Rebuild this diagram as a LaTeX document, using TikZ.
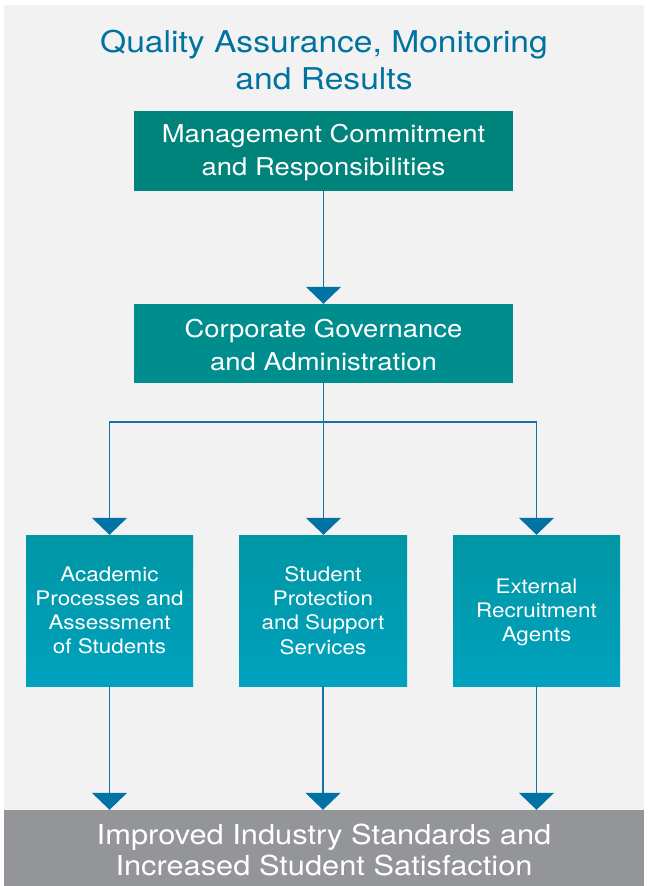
\documentclass[tikz,border=0pt]{standalone}
\usepackage{fontspec}
\setmainfont{TeX Gyre Heros}[FakeStretch=1.12]
\usetikzlibrary{arrows.meta}
\definecolor{bgc}{RGB}{242,242,242}
\definecolor{titlec}{RGB}{0,114,160}
\definecolor{arrowc}{RGB}{0,114,163}
\definecolor{linec}{RGB}{20,115,168}
\definecolor{boxa}{RGB}{0,131,122}
\definecolor{boxb}{RGB}{0,141,142}
\definecolor{boxtop}{RGB}{0,150,164}
\definecolor{boxbot}{RGB}{0,162,190}
\definecolor{barc}{RGB}{147,149,152}
\newcommand{\upstrut}[1]{\rule{0pt}{#1}}
\begin{document}
\begin{tikzpicture}[x=1pt,y=-1pt,
  bigbox/.style={inner sep=0pt, align=center, text=white, minimum width=379pt, minimum height=80pt,
    font=\fontsize{24.5}{33}\selectfont},
  smallbox/.style={inner sep=0pt, align=center, text=white, minimum width=167pt, minimum height=151pt,
    top color=boxtop, bottom color=boxbot, shading angle=0,
    font=\fontsize{20}{24.2}\selectfont},
  titletext/.style={align=center, text=titlec, inner sep=0pt, font=\fontsize{30}{37}\selectfont},
  bartext/.style={inner sep=0pt, align=center, text=white, fill=barc, minimum width=640pt, minimum height=80pt,
    font=\fontsize{27.5}{30.5}\selectfont},
  conn/.style={draw=linec, line width=1.5pt, -{Triangle[width=35pt,length=17pt,color=arrowc]}},
  wire/.style={draw=linec, line width=1.5pt},
]
\useasboundingbox (0,0) rectangle (648,886);
\fill[white] (0,0) rectangle (648,886);
\fill[bgc] (4,5) rectangle (644,886);

\node[titletext] (title) at (324,60) {Quality Assurance, Monitoring\\and Results};

\node[bigbox, fill=boxa] (mgmt) at (323.5,151) {\upstrut{22pt}Management Commitment\\and Responsibilities};
\node[bigbox, fill=boxb, minimum height=79pt] (gov) at (323.5,343.5) {\upstrut{22pt}Corporate Governance\\and Administration};

\node[smallbox] (acad) at (109.5,610.5) {Academic\\Processes and\\Assessment\\of Students};
\node[smallbox, minimum width=168pt] (prot) at (323,610.5) {Student\\Protection\\and Support\\Services};
\node[smallbox] (ext) at (536.5,610.5) {\upstrut{18.4pt}External\\Recruitment\\Agents};

\node[bartext] (bar) at (324,850) {Improved Industry Standards and\\Increased Student Satisfaction};

\coordinate (split) at (323.5,422);

\draw[conn] (mgmt.south) -- (gov.north);
\draw[wire] (gov.south) -- (split);
\draw[conn] (split) -| (acad.north);
\draw[conn] (split) -- (prot.north -| split);
\draw[conn] (split) -| (ext.north);

\draw[conn] (acad.south) -- (acad.south |- bar.north);
\draw[conn] (prot.south) -- (prot.south |- bar.north);
\draw[conn] (ext.south) -- (ext.south |- bar.north);
\end{tikzpicture}
\end{document}
